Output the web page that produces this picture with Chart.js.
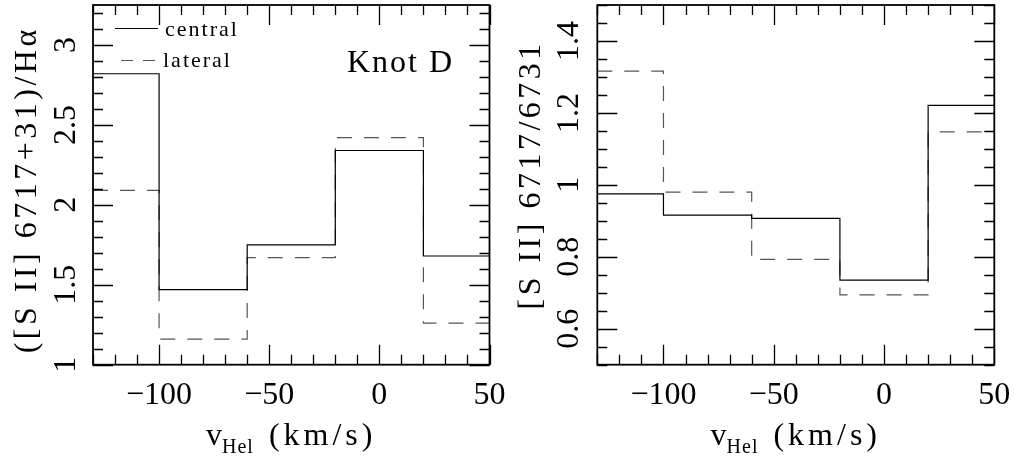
<!DOCTYPE html>
<html>
<head>
<meta charset="utf-8">
<script src="https://cdn.jsdelivr.net/npm/chart.js@4.4.1/dist/chart.umd.min.js"></script>
<style>
  body { margin: 0; background: #fff; }
  .panel { position: absolute; top: 0; height: 456px; }
  #leftBox { left: 0; width: 512px; }
  #rightBox { left: 505px; width: 509px; }
</style>
</head>
<body>
<div class="panel" id="leftBox"><canvas id="ratioChart" width="512" height="456"></canvas></div>
<div class="panel" id="rightBox"><canvas id="densChart" width="509" height="456"></canvas></div>
<script>
// bin edges in km/s, one value per bin
const binEdges = [-130, -100, -60, -20, 20, 50];
const ratioCentral = [2.82, 1.47, 1.75, 2.34, 1.68];
const ratioLateral = [2.09, 1.16, 1.67, 2.42, 1.26];
const densCentral = [0.975, 0.916, 0.907, 0.735, 1.221];
const densLateral = [1.316, 0.98, 0.793, 0.694, 1.147];

const xTickValues = [-100, -50, 0, 50];
const ratioTickValues = [1, 1.5, 2, 2.5, 3];
const densTickValues = [0.6, 0.8, 1, 1.2, 1.4];

const SERIF = "'Liberation Serif', 'Times New Roman', serif";
Chart.defaults.font.family = SERIF;
Chart.defaults.color = '#000';

function stepPoints(values) {
    // last edge repeats the last bin value so the step closes at the frame
    return binEdges.map((x, i) => ({ x: x, y: values[Math.min(i, values.length - 1)] }));
}

function isMajor(v, step) {
    const r = v / step;
    return Math.abs(r - Math.round(r)) < 1e-6;
}

function noPad(scale) {
    scale.paddingTop = 0;
    scale.paddingBottom = 0;
    scale.paddingLeft = 0;
    scale.paddingRight = 0;
}

const panelDecor = {
    id: 'panelDecor',
    afterDraw(chart, args, opts) {
        const ctx = chart.ctx;
        const a = chart.chartArea;
        const xs = chart.scales.x;
        const ys = chart.scales.y;
        ctx.save();

        // inward ticks on all four sides
        ctx.strokeStyle = '#000';
        ctx.lineWidth = 1.3;
        ctx.beginPath();
        let n = Math.round((xs.max - xs.min) / opts.xMinor);
        for (let i = 0; i <= n; i++) {
            const v = xs.min + i * opts.xMinor;
            const px = Math.round(xs.getPixelForValue(v)) + 0.5;
            const len = isMajor(v, opts.xMajor) ? 20 : 10;
            ctx.moveTo(px, a.bottom); ctx.lineTo(px, a.bottom - len);
            ctx.moveTo(px, a.top); ctx.lineTo(px, a.top + len);
        }
        n = Math.round((ys.max - ys.min) / opts.yMinor);
        for (let i = 0; i <= n; i++) {
            const v = ys.min + i * opts.yMinor;
            const py = Math.round(ys.getPixelForValue(v)) + 0.5;
            const len = isMajor(v, opts.yMajor) ? 20 : 10;
            ctx.moveTo(a.left, py); ctx.lineTo(a.left + len, py);
            ctx.moveTo(a.right, py); ctx.lineTo(a.right - len, py);
        }
        ctx.stroke();

        ctx.lineWidth = 1.8;
        ctx.strokeRect(a.left, a.top, a.right - a.left, a.bottom - a.top);

        ctx.fillStyle = '#000';

        // y title, rotated
        ctx.save();
        ctx.translate(opts.yTitleX, (a.top + a.bottom) / 2 + opts.yTitleShift);
        ctx.rotate(-Math.PI / 2);
        ctx.font = '32px ' + SERIF;
        ctx.letterSpacing = '3.5px';
        ctx.textAlign = 'center';
        ctx.textBaseline = 'middle';
        ctx.fillText(opts.yTitle, 0, 0);
        ctx.restore();

        // x title: v_Hel (km/s)
        ctx.textBaseline = 'alphabetic';
        ctx.textAlign = 'left';
        ctx.font = '32px ' + SERIF;
        ctx.letterSpacing = '0px';
        const wV = ctx.measureText('v').width;
        ctx.font = '20px ' + SERIF;
        ctx.letterSpacing = '1px';
        const wSub = ctx.measureText('Hel').width;
        ctx.font = '32px ' + SERIF;
        ctx.letterSpacing = '4px';
        const wUnit = ctx.measureText('(km/s)').width;
        const gap = 15;
        const total = wV + wSub + gap + wUnit;
        let x0 = (a.left + a.right) / 2 - total / 2;
        const base = 445;
        ctx.letterSpacing = '0px';
        ctx.fillText('v', x0, base);
        ctx.font = '20px ' + SERIF;
        ctx.letterSpacing = '1px';
        ctx.fillText('Hel', x0 + wV, base + 8);
        ctx.font = '32px ' + SERIF;
        ctx.letterSpacing = '4px';
        ctx.fillText('(km/s)', x0 + wV + wSub + gap, base);

        if (opts.legend) {
            ctx.lineWidth = 1.2;
            ctx.strokeStyle = '#000';
            ctx.setLineDash([]);
            ctx.beginPath();
            ctx.moveTo(115, 28.5); ctx.lineTo(158, 28.5);
            ctx.stroke();
            ctx.strokeStyle = '#555';
            ctx.setLineDash([12, 10]);
            ctx.beginPath();
            ctx.moveTo(121, 60.5); ctx.lineTo(160, 60.5);
            ctx.stroke();
            ctx.setLineDash([]);
            ctx.font = '22px ' + SERIF;
            ctx.letterSpacing = '2px';
            ctx.fillText('central', 165, 36);
            ctx.fillText('lateral', 163, 67);
        }
        if (opts.label) {
            ctx.font = '32px ' + SERIF;
            ctx.letterSpacing = '2px';
            ctx.fillText(opts.label, 347, 72);
        }
        ctx.restore();
    }
};

function makePanel(canvasId, central, lateral, yMin, yMax, yTicks, yPad, areaLeft, padRight, decor) {
    const ctx = document.getElementById(canvasId).getContext('2d');
    return new Chart(ctx, {
        type: 'line',
        data: {
            datasets: [{
                label: 'central',
                data: stepPoints(central),
                stepped: 'before',
                borderColor: '#000',
                borderWidth: 1.2,
                pointRadius: 0,
                fill: false
            }, {
                label: 'lateral',
                data: stepPoints(lateral),
                stepped: 'before',
                borderColor: '#555',
                borderWidth: 1.2,
                borderDash: [15, 12],
                pointRadius: 0,
                fill: false
            }]
        },
        options: {
            responsive: false,
            animation: false,
            layout: { autoPadding: false, padding: { top: 5, right: padRight, left: 0, bottom: 0 } },
            plugins: {
                legend: { display: false },
                tooltip: { enabled: false },
                panelDecor: decor
            },
            scales: {
                x: {
                    type: 'linear',
                    min: -130,
                    max: 50,
                    grid: { display: false, drawTicks: false },
                    border: { display: false },
                    afterBuildTicks: scale => { scale.ticks = xTickValues.map(v => ({ value: v })); },
                    afterFit: scale => { scale.height = 91.3; noPad(scale); },
                    ticks: {
                        autoSkip: false,
                        maxRotation: 0,
                        padding: 12,
                        font: { size: 32 },
                        callback: v => String(v).replace('-', '\u2212')
                    }
                },
                y: {
                    type: 'linear',
                    min: yMin,
                    max: yMax,
                    grid: { display: false, drawTicks: false },
                    border: { display: false },
                    afterBuildTicks: scale => { scale.ticks = yTicks.map(v => ({ value: v })); },
                    afterFit: scale => { scale.width = areaLeft; noPad(scale); },
                    ticks: {
                        autoSkip: false,
                        minRotation: 90,
                        maxRotation: 90,
                        crossAlign: 'center',
                        padding: yPad,
                        font: { size: 32 },
                        callback: v => String(v)
                    }
                }
            }
        },
        plugins: [panelDecor]
    });
}

makePanel('ratioChart', ratioCentral, ratioLateral, 1, 3.25, ratioTickValues, 6, 93, 22.5, {
    xMinor: 10, xMajor: 50, yMinor: 0.1, yMajor: 0.5,
    yTitle: '([S II] 6717+31)/H\u03b1', yTitleX: 28, yTitleShift: 5,
    legend: true, label: 'Knot D'
});

makePanel('densChart', densCentral, densLateral, 0.5, 1.5, densTickValues, 7.5, 92.3, 19.7, {
    xMinor: 10, xMajor: 50, yMinor: 0.05, yMajor: 0.2,
    yTitle: '[S II] 6717/6731', yTitleX: 27, yTitleShift: -10,
    legend: false, label: null
});
</script>
</body>
</html>
